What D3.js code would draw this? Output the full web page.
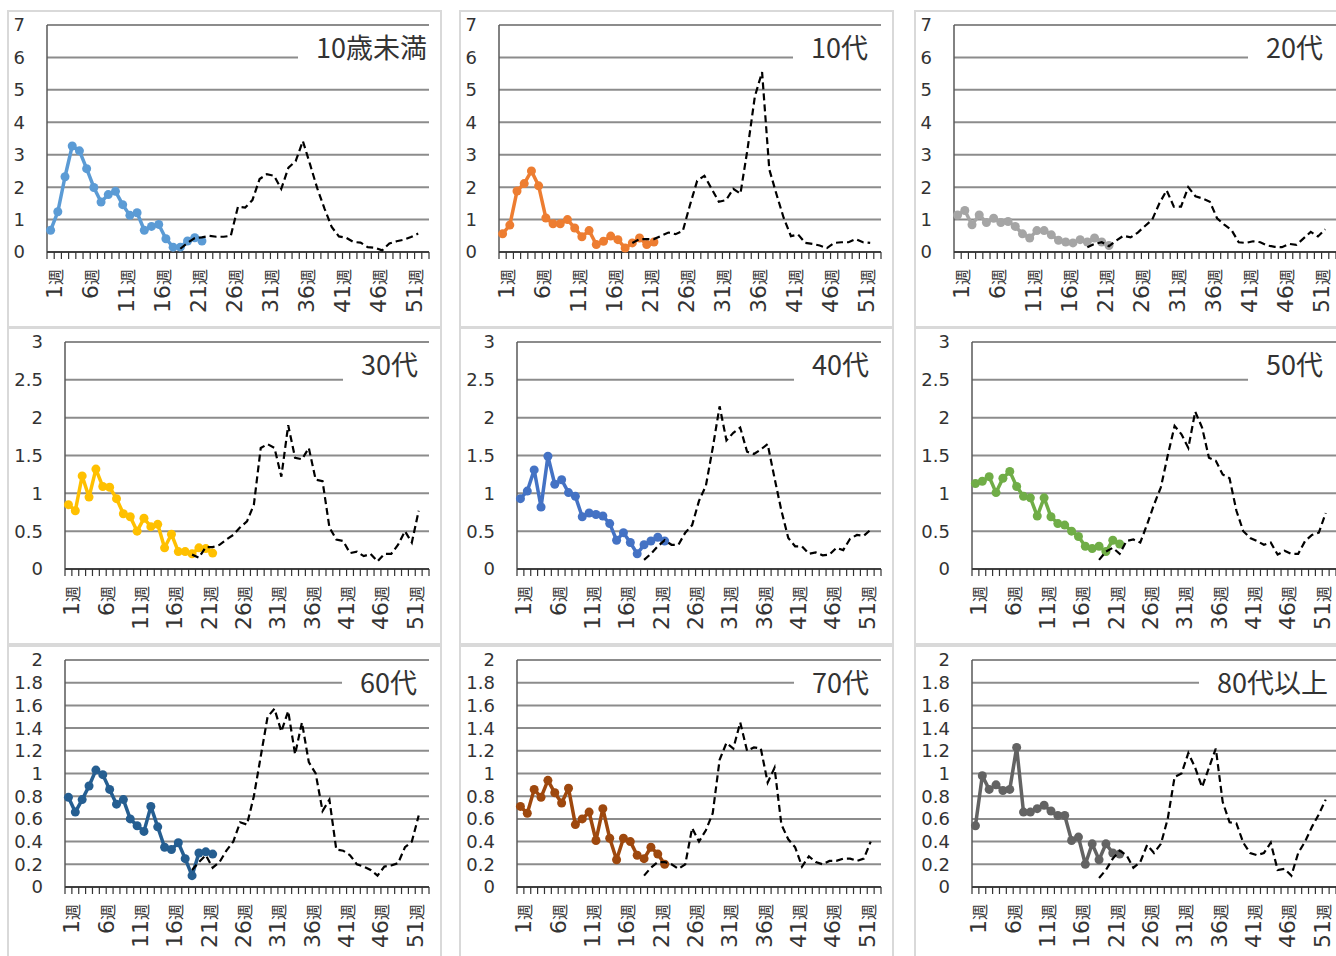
<!DOCTYPE html>
<html>
<head>
<meta charset="utf-8">
<script src="https://cdn.jsdelivr.net/npm/d3@7"></script>
<style>
  body { margin: 0; background: #fff; }
  svg { display: block; }
</style>
</head>
<body>
<script>
// age groups, one small chart each
const groups = ["10歳未満", "10代", "20代", "30代", "40代", "50代", "60代", "70代", "80代以上"];
const colors = ["#5b9bd5", "#ed7d31", "#a5a5a5", "#ffc000", "#4472c4", "#70ad47", "#255e91", "#9e480e", "#636363"];

// category axis: week 1 .. 53, label every 5th week
const weeks = d3.range(1, 54);
const weekLabels = [1, 6, 11, 16, 21, 26, 31, 36, 41, 46, 51];

// y ticks per row of charts
const ticksRow1 = [0, 1, 2, 3, 4, 5, 6, 7];
const ticksRow2 = [0, 0.5, 1, 1.5, 2, 2.5, 3];
const ticksRow3 = [0, 0.2, 0.4, 0.6, 0.8, 1, 1.2, 1.4, 1.6, 1.8, 2];

// this year: weeks 1-22
const nowStart = 1;
const under10Now   = [0.67, 1.24, 2.32, 3.27, 3.12, 2.57, 1.99, 1.54, 1.77, 1.87, 1.46, 1.13, 1.21, 0.67, 0.79, 0.85, 0.41, 0.15, 0.15, 0.34, 0.44, 0.34];
const teensNow     = [0.56, 0.83, 1.88, 2.11, 2.50, 2.04, 1.05, 0.87, 0.87, 1.00, 0.74, 0.47, 0.66, 0.23, 0.33, 0.49, 0.38, 0.12, 0.28, 0.43, 0.23, 0.31];
const twentiesNow  = [1.14, 1.28, 0.84, 1.14, 0.91, 1.04, 0.91, 0.94, 0.79, 0.56, 0.43, 0.66, 0.66, 0.53, 0.36, 0.31, 0.28, 0.38, 0.31, 0.43, 0.31, 0.20];
const thirtiesNow  = [0.85, 0.77, 1.23, 0.95, 1.32, 1.09, 1.08, 0.93, 0.73, 0.69, 0.50, 0.67, 0.56, 0.59, 0.28, 0.46, 0.23, 0.23, 0.20, 0.28, 0.27, 0.21];
const fortiesNow   = [0.93, 1.03, 1.31, 0.82, 1.49, 1.12, 1.18, 1.01, 0.96, 0.69, 0.74, 0.72, 0.70, 0.60, 0.38, 0.48, 0.35, 0.20, 0.32, 0.37, 0.42, 0.37];
const fiftiesNow   = [1.13, 1.16, 1.22, 1.01, 1.20, 1.29, 1.09, 0.96, 0.94, 0.70, 0.94, 0.69, 0.60, 0.58, 0.50, 0.43, 0.30, 0.27, 0.30, 0.23, 0.38, 0.33];
const sixtiesNow   = [0.79, 0.66, 0.77, 0.89, 1.03, 0.99, 0.86, 0.73, 0.77, 0.60, 0.54, 0.49, 0.71, 0.53, 0.35, 0.33, 0.39, 0.25, 0.10, 0.30, 0.31, 0.29];
const seventiesNow = [0.71, 0.65, 0.86, 0.79, 0.94, 0.83, 0.74, 0.87, 0.55, 0.60, 0.66, 0.41, 0.69, 0.43, 0.24, 0.43, 0.40, 0.28, 0.25, 0.35, 0.29, 0.20];
const eightiesNow  = [0.54, 0.98, 0.86, 0.90, 0.85, 0.86, 1.23, 0.66, 0.66, 0.69, 0.72, 0.67, 0.63, 0.63, 0.41, 0.44, 0.20, 0.38, 0.24, 0.38, 0.30, 0.29];

// last year (dashed): weeks 19-52
const prevStart = 19;
const under10Prev   = [0.10, 0.28, 0.43, 0.45, 0.50, 0.47, 0.47, 0.50, 1.40, 1.37, 1.60, 2.25, 2.40, 2.35, 1.95, 2.60, 2.80, 3.42, 2.70, 1.96, 1.34, 0.77, 0.48, 0.44, 0.31, 0.29, 0.15, 0.13, 0.05, 0.26, 0.33, 0.38, 0.46, 0.57];
const teensPrev     = [0.28, 0.40, 0.40, 0.40, 0.50, 0.60, 0.55, 0.65, 1.45, 2.20, 2.35, 1.95, 1.55, 1.60, 1.95, 1.80, 3.20, 4.80, 5.55, 2.55, 1.78, 1.05, 0.49, 0.54, 0.28, 0.25, 0.20, 0.12, 0.28, 0.30, 0.30, 0.40, 0.30, 0.28];
const twentiesPrev  = [0.15, 0.25, 0.30, 0.18, 0.35, 0.50, 0.45, 0.60, 0.80, 1.00, 1.50, 1.90, 1.40, 1.40, 2.00, 1.72, 1.65, 1.55, 1.04, 0.84, 0.68, 0.30, 0.28, 0.33, 0.30, 0.20, 0.16, 0.15, 0.25, 0.22, 0.42, 0.62, 0.48, 0.70];
const thirtiesPrev  = [0.19, 0.15, 0.29, 0.29, 0.32, 0.39, 0.45, 0.55, 0.63, 0.85, 1.60, 1.65, 1.60, 1.22, 1.90, 1.47, 1.45, 1.60, 1.18, 1.16, 0.55, 0.39, 0.37, 0.21, 0.23, 0.17, 0.20, 0.10, 0.20, 0.20, 0.32, 0.50, 0.35, 0.77];
const fortiesPrev   = [0.12, 0.20, 0.30, 0.38, 0.32, 0.32, 0.48, 0.58, 0.90, 1.10, 1.60, 2.15, 1.70, 1.80, 1.87, 1.55, 1.52, 1.58, 1.65, 1.20, 0.77, 0.41, 0.30, 0.30, 0.20, 0.22, 0.18, 0.19, 0.28, 0.25, 0.40, 0.45, 0.44, 0.52];
const fiftiesPrev   = [0.12, 0.23, 0.28, 0.20, 0.37, 0.39, 0.35, 0.59, 0.85, 1.08, 1.50, 1.89, 1.78, 1.60, 2.08, 1.87, 1.47, 1.43, 1.25, 1.20, 0.77, 0.50, 0.41, 0.37, 0.32, 0.35, 0.19, 0.24, 0.20, 0.20, 0.37, 0.45, 0.48, 0.74];
const sixtiesPrev   = [0.15, 0.22, 0.28, 0.17, 0.22, 0.32, 0.40, 0.57, 0.55, 0.80, 1.15, 1.50, 1.57, 1.37, 1.55, 1.17, 1.45, 1.10, 1.00, 0.67, 0.77, 0.33, 0.32, 0.28, 0.20, 0.18, 0.15, 0.10, 0.18, 0.19, 0.21, 0.35, 0.40, 0.63];
const seventiesPrev = [0.10, 0.17, 0.22, 0.22, 0.20, 0.16, 0.20, 0.52, 0.40, 0.50, 0.65, 1.12, 1.27, 1.22, 1.45, 1.20, 1.23, 1.22, 0.92, 1.05, 0.55, 0.42, 0.35, 0.18, 0.27, 0.22, 0.20, 0.23, 0.23, 0.25, 0.25, 0.23, 0.25, 0.40];
const eightiesPrev  = [0.08, 0.15, 0.25, 0.32, 0.28, 0.17, 0.22, 0.37, 0.30, 0.38, 0.60, 0.97, 1.00, 1.18, 1.05, 0.88, 1.05, 1.22, 0.75, 0.57, 0.56, 0.39, 0.30, 0.28, 0.30, 0.39, 0.15, 0.16, 0.10, 0.30, 0.40, 0.53, 0.64, 0.77];

const nowSeries = [under10Now, teensNow, twentiesNow, thirtiesNow, fortiesNow, fiftiesNow, sixtiesNow, seventiesNow, eightiesNow];
const prevSeries = [under10Prev, teensPrev, twentiesPrev, thirtiesPrev, fortiesPrev, fiftiesPrev, sixtiesPrev, seventiesPrev, eightiesPrev];
const rowTicks = [ticksRow1, ticksRow2, ticksRow3];

// layout
const colX = [8, 460, 915];
const rowY = [11, 328, 646];
const titleInset = [2, 13, 13, 11, 12, 13, 12, 12, 8];
const textColor = "#333";

const svg = d3.select("body").append("svg")
  .attr("width", 1336)
  .attr("height", 956);

groups.forEach((name, i) => {
  const col = i % 3, row = Math.floor(i / 3);
  const px = colX[col], py = rowY[row];
  const ticks = rowTicks[row];
  const g = svg.append("g");

  g.append("rect")
    .attr("x", px).attr("y", py)
    .attr("width", 433).attr("height", 316)
    .attr("fill", "#fff")
    .attr("stroke", "#d9d9d9")
    .attr("stroke-width", 2);

  const left = px + (row === 0 ? 39 : 57);
  const right = px + 421;
  const top = py + 14;
  const bottom = py + 241;

  const x = d3.scaleBand().domain(weeks).range([left, right]);
  const y = d3.scaleLinear().domain([0, d3.max(ticks)]).range([bottom, top]);
  const cx = (w) => x(w) + x.bandwidth() / 2;

  // gridlines
  g.append("g")
    .selectAll("line")
    .data(ticks.filter((t) => t > 0))
    .join("line")
    .attr("x1", left).attr("x2", right)
    .attr("y1", (d) => y(d)).attr("y2", (d) => y(d))
    .attr("stroke", "#8c8c8c")
    .attr("stroke-width", 2);

  // y labels
  g.append("g")
    .selectAll("text")
    .data(ticks)
    .join("text")
    .attr("x", left - 22)
    .attr("y", (d) => y(d))
    .attr("dy", "0.36em")
    .attr("text-anchor", "end")
    .attr("font-family", "'DejaVu Sans', sans-serif")
    .attr("font-size", 18)
    .attr("fill", textColor)
    .text((d) => d3.format("~g")(d));

  // title with white box over the gridline
  const box = g.append("rect").attr("fill", "#fff");
  const title = g.append("text")
    .attr("x", right - titleInset[i])
    .attr("y", top + 33)
    .attr("text-anchor", "end")
    .attr("font-family", "'Noto Sans CJK JP', sans-serif")
    .attr("font-size", 27)
    .attr("fill", textColor)
    .text(name);
  const bb = title.node().getBBox();
  box.attr("x", bb.x - 18)
    .attr("y", top + 8)
    .attr("width", right - (bb.x - 18))
    .attr("height", 34);

  // axes
  g.append("line")
    .attr("x1", left).attr("x2", left)
    .attr("y1", top).attr("y2", bottom)
    .attr("stroke", "#595959").attr("stroke-width", 1.5);
  g.append("line")
    .attr("x1", left).attr("x2", right)
    .attr("y1", bottom).attr("y2", bottom)
    .attr("stroke", "#404040").attr("stroke-width", 2);

  // category tick marks between weeks
  g.append("g")
    .selectAll("line")
    .data(d3.range(weeks.length + 1))
    .join("line")
    .attr("x1", (b) => left + b * x.bandwidth())
    .attr("x2", (b) => left + b * x.bandwidth())
    .attr("y1", bottom).attr("y2", bottom + 7)
    .attr("stroke", "#333").attr("stroke-width", 1.2);

  // x labels, rotated
  const xl = g.append("g")
    .selectAll("text")
    .data(weekLabels)
    .join("text")
    .attr("transform", (w) => `translate(${cx(w) + 11},${bottom + 17}) rotate(-90)`)
    .attr("text-anchor", "end")
    .attr("fill", textColor);
  xl.append("tspan")
    .attr("font-family", "'DejaVu Sans', sans-serif")
    .attr("font-size", 22)
    .text((w) => w);
  xl.append("tspan")
    .attr("font-family", "'Noto Sans CJK JP', sans-serif")
    .attr("font-size", 16)
    .text("週");

  // this year: coloured line with markers
  const nowPts = nowSeries[i].map((v, k) => ({ w: nowStart + k, v }));
  const line = d3.line().x((d) => cx(d.w)).y((d) => y(d.v));

  g.append("path")
    .datum(nowPts)
    .attr("d", line)
    .attr("fill", "none")
    .attr("stroke", colors[i])
    .attr("stroke-width", 3.5)
    .attr("stroke-linejoin", "round");

  g.append("g")
    .selectAll("circle")
    .data(nowPts)
    .join("circle")
    .attr("cx", (d) => cx(d.w))
    .attr("cy", (d) => y(d.v))
    .attr("r", 4.5)
    .attr("fill", colors[i]);

  // last year: black dashed line
  const prevPts = prevSeries[i].map((v, k) => ({ w: prevStart + k, v }));
  g.append("path")
    .datum(prevPts)
    .attr("d", line)
    .attr("fill", "none")
    .attr("stroke", "#000")
    .attr("stroke-width", 2.2)
    .attr("stroke-dasharray", "7,4");
});
</script>
</body>
</html>
